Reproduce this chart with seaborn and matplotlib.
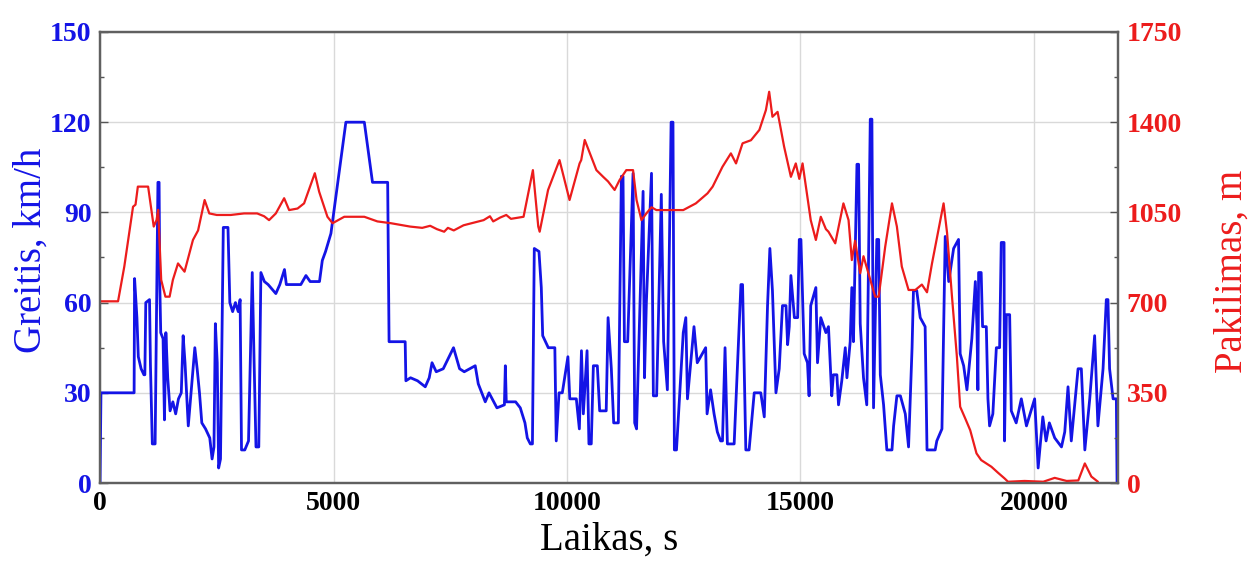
import matplotlib
matplotlib.use("Agg")
import matplotlib.pyplot as plt
from matplotlib.ticker import MultipleLocator
import seaborn as sns
import pandas as pd

# ---- data: speed (km/h) vs time (s) ----
speed_time = [0, 20, 730, 740, 790, 820, 880, 940, 960, 980, 1060, 1080, 1120, 1180, 1240, 1265, 1280, 1300,
              1350, 1380, 1410, 1450, 1500, 1560, 1620, 1680, 1740, 1780, 1820, 1890, 1950, 2030, 2080, 2130,
              2180, 2260, 2350, 2400, 2440, 2470, 2510, 2540, 2580, 2640, 2740, 2780, 2840, 2900, 2960, 3000,
              3030, 3100, 3180, 3260, 3300, 3340, 3400, 3445, 3520, 3600, 3765, 3850, 3950, 3990, 4150, 4300,
              4410, 4500, 4700, 4760, 4830, 4945, 5265, 5660, 5835, 6160, 6190, 6535, 6550, 6650, 6800, 6965,
              7050, 7110, 7200, 7350, 7570, 7700, 7800, 8035, 8100, 8250, 8330, 8500, 8660, 8680, 8700, 8900,
              9000, 9100, 9150, 9215, 9260, 9300, 9400, 9450, 9480, 9600, 9740, 9770, 9830, 9900, 10020, 10060,
              10200, 10265, 10310, 10350, 10430, 10470, 10520, 10565, 10650, 10700, 10840, 10880, 10950, 11000,
              11100, 11165, 11200, 11230, 11300, 11415, 11450, 11490, 11630, 11660, 11700, 11810, 11850, 11920,
              12020, 12070, 12150, 12230, 12270, 12300, 12345, 12490, 12545, 12580, 12720, 12790, 12970, 13000,
              13075, 13150, 13220, 13290, 13330, 13385, 13435, 13580, 13725, 13760, 13830, 13900, 13935, 14010,
              14150, 14225, 14295, 14345, 14400, 14475, 14545, 14615, 14690, 14725, 14760, 14795, 14870, 14940,
              14975, 15010, 15080, 15150, 15185, 15220, 15330, 15365, 15435, 15545, 15600, 15670, 15705, 15780,
              15815, 15885, 15960, 15995, 16065, 16100, 16135, 16210, 16245, 16280, 16350, 16420, 16495, 16530,
              16565, 16635, 16675, 16710, 16780, 16850, 16960, 16995, 17065, 17140, 17245, 17315, 17390, 17420,
              17490, 17565, 17670, 17710, 17885, 17920, 18030, 18100, 18175, 18280, 18385, 18420, 18495, 18565,
              18670, 18745, 18780, 18800, 18815, 18870, 18900, 18980, 19015, 19050, 19120, 19195, 19265, 19300,
              19360, 19370, 19410, 19480, 19515, 19620, 19730, 19840, 20015, 20090, 20190, 20260, 20330, 20445,
              20590, 20660, 20730, 20800, 20945, 21015, 21090, 21195, 21300, 21370, 21480, 21550, 21585, 21620,
              21695, 21765, 21780]
speed_kmh = [0, 30, 30, 68, 55, 42, 38, 36, 36, 60, 61, 39, 13, 13, 100, 100, 66, 50,
             48, 21, 50, 35, 24, 27, 23, 28, 30, 49, 40, 19, 30, 45, 38, 30,
             20, 18, 15, 8, 12, 53, 40, 5, 8, 85, 85, 60, 57, 60, 57, 61,
             11, 11, 14, 70, 40, 12, 12, 70, 67, 66, 63, 66, 71, 66, 66, 66,
             69, 67, 67, 74, 77, 83, 120, 120, 100, 100, 47, 47, 34, 35, 34, 32,
             35, 40, 37, 38, 45, 38, 37, 39, 33, 27, 30, 25, 26, 39, 27, 27,
             25, 20, 15, 13, 13, 78, 77, 65, 49, 45, 45, 14, 30, 30, 42, 28,
             28, 18, 44, 23, 44, 13, 13, 39, 39, 24, 24, 55, 38, 20,
             20, 102, 102, 47, 47, 103, 20, 18, 97, 35, 60, 103, 29, 29,
             96, 47, 31, 120, 120, 11, 11, 50, 55, 28, 52, 40, 45, 23,
             31, 23, 17, 14, 14, 45, 13, 13, 66, 66, 11, 11, 17, 30,
             30, 22, 59, 78, 64, 30, 38, 59, 59, 46, 52, 69, 55, 55,
             81, 81, 43, 40, 29, 59, 65, 40, 55, 50, 52, 29, 36, 36,
             26, 34, 45, 35, 47, 65, 47, 106, 106, 53, 35, 26, 121, 121,
             25, 81, 81, 36, 26, 11, 11, 19, 29, 29, 23, 12, 45, 64,
             64, 55, 52, 11, 11, 14, 18, 82, 67, 78, 81, 43, 39, 31,
             48, 67, 52, 31, 70, 70, 52, 52, 28, 19, 23, 45, 45, 80,
             80, 14, 56, 56, 24, 20, 28, 19, 28, 5, 22, 14, 20, 15,
             12, 17, 32, 14, 38, 38, 11, 28, 49, 19, 38, 61, 61, 38,
             28, 28, 0]

# ---- data: altitude (m) vs time (s) ----
alt_time = [0, 386, 520, 707, 760, 810, 1030, 1150, 1210, 1245, 1310, 1400, 1490, 1560, 1670, 1810, 1990,
            2100, 2240, 2340, 2500, 2800, 3085, 3365, 3515, 3620, 3765, 3943, 4050, 4230, 4370, 4600, 4693,
            4870, 4980, 5230, 5660, 5940, 6230, 6640, 6900, 7070, 7215, 7370, 7450, 7575, 7785, 8000, 8215,
            8350, 8420, 8570, 8700, 8800, 9070, 9270, 9385, 9415, 9595, 9840, 10055, 10270, 10305, 10380,
            10630, 10775, 10880, 11020, 11125, 11270, 11415, 11490, 11595, 11700, 11810, 11915, 12490, 12760,
            13010, 13120, 13330, 13510, 13620, 13760, 13940, 14120, 14260, 14330, 14400, 14510, 14650, 14795,
            14900, 14975, 15045, 15220, 15330, 15435, 15545, 15600, 15745, 15920, 16030, 16100, 16170, 16280,
            16350, 16600, 16675, 16815, 16960, 17065, 17170, 17315, 17460, 17600, 17710, 17815, 18065, 18140,
            18245, 18350, 18420, 18530, 18635, 18770, 18870, 19090, 19230, 19370, 19445, 19800, 20200, 20445,
            20700, 20950, 21090, 21230, 21370]
alt_m = [705, 705, 840, 1072, 1080, 1150, 1150, 995, 1020, 1060, 788, 723, 723, 788, 852, 820, 943,
         980, 1098, 1046, 1040, 1040, 1046, 1046, 1035, 1020, 1046, 1105, 1059, 1065, 1085, 1202, 1130,
         1033, 1008, 1033, 1033, 1015, 1008, 995, 990, 998, 985, 975, 990, 980, 1000, 1010, 1020,
         1035, 1015, 1030, 1040, 1025, 1033, 1214, 995, 975, 1137, 1253, 1098, 1240, 1253, 1331,
         1214, 1188, 1170, 1137, 1175, 1214, 1214, 1098, 1020, 1046, 1070, 1059, 1059, 1085,
         1124, 1150, 1227, 1279, 1240, 1318, 1330, 1370, 1447, 1518, 1421, 1440, 1305, 1188,
         1240, 1180, 1240, 1020, 943, 1033, 985, 975, 930, 1085, 1020, 865, 940, 814,
         880, 723, 723, 917, 1085, 995, 840, 749, 749, 770, 740, 850, 1085, 970,
         723, 490, 296, 250, 205, 115, 89, 63, 40, 18, 5, 8, 5, 20,
         8, 10, 76, 25, 5]

speed_ticks = [0, 30, 60, 90, 120, 150]
alt_ticks = [0, 350, 700, 1050, 1400, 1750]
time_ticks = [0, 5000, 10000, 15000, 20000]

speed_df = pd.DataFrame({"t": speed_time, "v": speed_kmh})
alt_df = pd.DataFrame({"t": alt_time, "h": alt_m})

sns.set_style("white")
plt.rcParams["font.family"] = ["Liberation Serif", "DejaVu Serif"]

BLUE = "#1414e6"
RED = "#ec1c1c"

fig = plt.figure(figsize=(12.55, 5.61), dpi=100)
ax = fig.add_axes([0.0797, 0.139, 0.8115, 0.804])
ax2 = ax.twinx()

sns.lineplot(data=speed_df, x="t", y="v", ax=ax, sort=False, estimator=None,
             color=BLUE, lw=2.0, zorder=3)
sns.lineplot(data=alt_df, x="t", y="h", ax=ax2, sort=False, estimator=None,
             color=RED, lw=1.6, zorder=2)

ax.set_xlim(0, 21810)
ax.set_ylim(0, 150)
ax2.set_ylim(0, 1750)
ax.set_xticks(time_ticks)
ax.set_yticks(speed_ticks)
ax2.set_yticks(alt_ticks)
ax.xaxis.set_minor_locator(MultipleLocator(2500))
ax.yaxis.set_minor_locator(MultipleLocator(15))
ax2.yaxis.set_minor_locator(MultipleLocator(175))

ax.grid(True, which="major", color="#d9d9d9", lw=1.0)
ax.set_axisbelow(True)

tick_font = dict(fontsize=20, fontweight="bold")
ax.set_xticklabels([str(t) for t in time_ticks], **tick_font, color="black")
ax.set_yticklabels([str(t) for t in speed_ticks], **tick_font, color=BLUE)
ax2.set_yticklabels([str(t) for t in alt_ticks], **tick_font, color=RED)

ax.tick_params(axis="both", which="both", direction="in", colors="#555555")
ax.tick_params(axis="both", which="major", length=6, width=1, pad=6)
ax.tick_params(axis="both", which="minor", length=3, width=1)
ax2.tick_params(axis="y", which="both", direction="in", colors="#555555")
ax2.tick_params(axis="y", which="major", length=6, width=1, pad=6)
ax2.tick_params(axis="y", which="minor", length=3, width=1)
for lbl in ax.get_yticklabels():
    lbl.set_color(BLUE)
for lbl in ax2.get_yticklabels():
    lbl.set_color(RED)
for lbl in ax.get_xticklabels():
    lbl.set_color("black")

ax.set_xlabel("Laikas, s", fontsize=28, color="black", labelpad=4)
ax.set_ylabel("Greitis, km/h", fontsize=28, color=BLUE)
ax2.set_ylabel("Pakilimas, m", fontsize=28, color=RED, rotation=90)
ax.yaxis.set_label_coords(-0.049, 0.515)
ax2.yaxis.set_label_coords(1.093, 0.47)

for a in (ax, ax2):
    for s in a.spines.values():
        s.set_color("#606060")
        s.set_linewidth(1.6)
        s.set_visible(True)

fig.savefig("out.png", dpi=100, facecolor="white")
